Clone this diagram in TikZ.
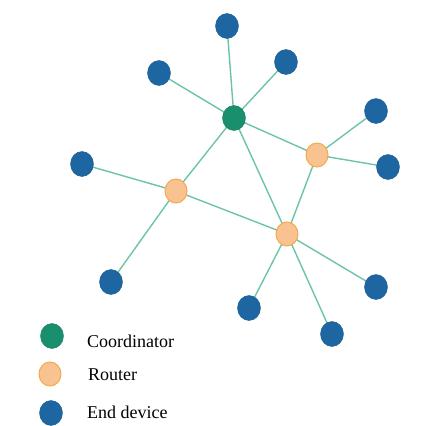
\documentclass[tikz,border=0pt]{standalone}
\usepackage{fontspec}
\setmainfont{Liberation Serif}
\usetikzlibrary{shapes.geometric, backgrounds}
\definecolor{coordfill}{HTML}{1A8F6E}
\definecolor{routerfill}{HTML}{F8C291}
\definecolor{routerline}{HTML}{F4A94C}
\definecolor{endfill}{HTML}{1E66A1}
\definecolor{linkcol}{HTML}{6CC4A6}
\tikzset{
  dev/.style={ellipse, minimum width=23pt, minimum height=25pt, inner sep=0pt},
  coordnode/.style={dev, fill=coordfill, draw=coordfill!85!black, line width=0.4pt},
  routernode/.style={dev, minimum width=22pt, minimum height=24pt, fill=routerfill, draw=routerline, line width=1pt},
  endnode/.style={dev, fill=endfill, draw=endfill!90!black, line width=0.4pt},
  link/.style={draw=linkcol, line width=1.4pt},
  legendtext/.style={anchor=west, font=\fontsize{18}{20}\selectfont, inner sep=0pt}
}
\begin{document}
\begin{tikzpicture}[x=1pt, y=-1pt]
\useasboundingbox (0,0) rectangle (422,426);
% network devices
\node[coordnode]  (c)  at (234,118) {};
\node[routernode] (r1) at (317,155) {};
\node[routernode] (r2) at (176,191) {};
\node[routernode] (r3) at (287,234) {};
\node[endnode] (e1)  at (227,26)  {};
\node[endnode] (e2)  at (286,62)  {};
\node[endnode] (e3)  at (159,73)  {};
\node[endnode] (e4)  at (376,111) {};
\node[endnode] (e5)  at (388,167) {};
\node[endnode] (e6)  at (82,164)  {};
\node[endnode] (e7)  at (111,282) {};
\node[endnode] (e8)  at (376,287) {};
\node[endnode] (e9)  at (249,308) {};
\node[endnode] (e10) at (332,334) {};
% links, kept behind the devices
\begin{pgfonlayer}{background}
\foreach \a/\b in {c/e1, c/e2, c/e3, c/r1, c/r2, c/r3, r1/e4, r1/e5, r1/r3,
                   r2/e6, r2/e7, r2/r3, r3/e8, r3/e9, r3/e10}
  \draw[link] (\a.center) -- (\b.center);
\end{pgfonlayer}
% legend
\node[coordnode]  (lc) at (52,336) {};
\node[routernode] (lr) at (50,374) {};
\node[endnode]    (le) at (51,413) {};
\node[legendtext] (tc) at (87,341) {Coordinator};
\node[legendtext] (tr) at (88,375) {Router};
\node[legendtext] (te) at (87,412) {End device};
\end{tikzpicture}
\end{document}
